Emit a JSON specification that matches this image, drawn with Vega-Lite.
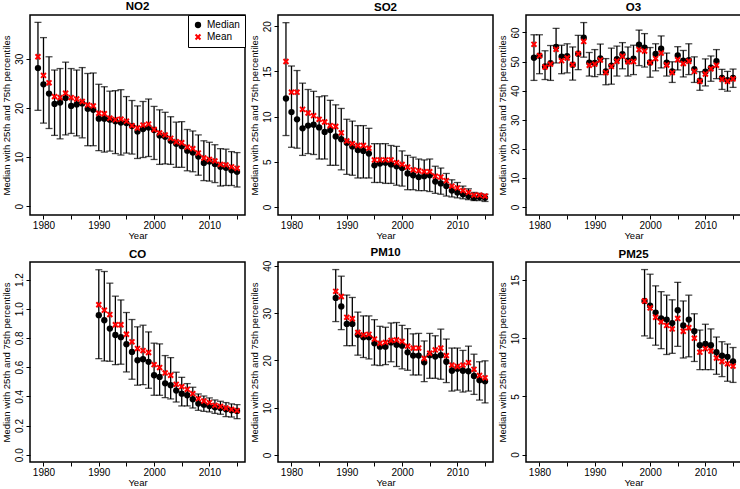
{
"$schema": "https://vega.github.io/schema/vega-lite/v6.json",
"background": "white",
"padding": {"left": 0, "top": 0, "right": 0, "bottom": 0},
"columns": 3,
"spacing": {"row": 47, "column": 33},
"bounds": "flush",
"resolve": {"scale": {"color": "independent", "shape": "independent"}, "legend": {"color": "independent", "shape": "independent"}},
"config": {
  "font": "Liberation Sans",
  "view": {"stroke": "black", "strokeWidth": 1.5},
  "axis": {"domain": false, "grid": false, "tickColor": "black", "tickSize": 4, "tickWidth": 1, "labelColor": "black", "labelFont": "Liberation Sans", "labelFontSize": 10, "labelPadding": 2, "titleFont": "Liberation Sans", "titleFontSize": 9.5, "titleFontWeight": "normal", "titleColor": "black", "titlePadding": 3, "labelOverlap": false, "labelFlush": false},
  "axisX": {"labelPadding": 1, "titlePadding": 0},
  "axisY": {"labelAngle": -90, "labelAlign": "center", "labelBaseline": "bottom", "labelOverlap": false},
  "title": {"font": "Liberation Sans", "fontSize": 11.5, "fontWeight": "bold", "color": "black", "offset": 2},
  "tick": {"orient": "horizontal"}
},
"datasets": {
"NO2": [
{"year":1979,"Median":28.1,"Mean":30.4,"lo":19.5,"hi":37.4},
{"year":1980,"Median":24.8,"Mean":26.6,"lo":16.9,"hi":34.3},
{"year":1981,"Median":22.9,"Mean":25.1,"lo":15.8,"hi":30.4},
{"year":1982,"Median":20.8,"Mean":22.3,"lo":14.4,"hi":27.7},
{"year":1983,"Median":21.1,"Mean":22.1,"lo":13.7,"hi":28.0},
{"year":1984,"Median":22.0,"Mean":23.0,"lo":14.5,"hi":29.3},
{"year":1985,"Median":20.4,"Mean":22.1,"lo":14.8,"hi":28.0},
{"year":1986,"Median":20.7,"Mean":21.8,"lo":14.3,"hi":27.7},
{"year":1987,"Median":20.9,"Mean":21.3,"lo":13.9,"hi":28.2},
{"year":1988,"Median":19.8,"Mean":20.6,"lo":12.3,"hi":27.0},
{"year":1989,"Median":19.6,"Mean":20.4,"lo":12.3,"hi":27.1},
{"year":1990,"Median":17.8,"Mean":18.9,"lo":11.3,"hi":24.8},
{"year":1991,"Median":17.8,"Mean":18.8,"lo":11.0,"hi":24.3},
{"year":1992,"Median":17.6,"Mean":17.9,"lo":11.2,"hi":23.4},
{"year":1993,"Median":17.3,"Mean":17.6,"lo":10.7,"hi":23.5},
{"year":1994,"Median":17.0,"Mean":17.7,"lo":10.4,"hi":23.7},
{"year":1995,"Median":16.9,"Mean":17.3,"lo":10.8,"hi":22.3},
{"year":1996,"Median":16.3,"Mean":16.4,"lo":10.6,"hi":21.5},
{"year":1997,"Median":15.2,"Mean":15.9,"lo":9.7,"hi":20.4},
{"year":1998,"Median":15.7,"Mean":16.5,"lo":9.9,"hi":21.3},
{"year":1999,"Median":16.0,"Mean":16.7,"lo":10.1,"hi":21.8},
{"year":2000,"Median":15.5,"Mean":15.6,"lo":9.5,"hi":20.3},
{"year":2001,"Median":14.4,"Mean":14.9,"lo":8.5,"hi":19.6},
{"year":2002,"Median":14.1,"Mean":14.5,"lo":8.6,"hi":19.1},
{"year":2003,"Median":13.3,"Mean":13.8,"lo":8.5,"hi":18.2},
{"year":2004,"Median":12.7,"Mean":13.1,"lo":7.9,"hi":17.1},
{"year":2005,"Median":12.2,"Mean":12.9,"lo":7.9,"hi":17.2},
{"year":2006,"Median":11.3,"Mean":12.0,"lo":7.2,"hi":15.6},
{"year":2007,"Median":10.9,"Mean":11.7,"lo":7.0,"hi":15.3},
{"year":2008,"Median":10.1,"Mean":10.8,"lo":6.3,"hi":14.5},
{"year":2009,"Median":8.8,"Mean":9.8,"lo":5.2,"hi":13.3},
{"year":2010,"Median":9.1,"Mean":9.5,"lo":5.1,"hi":13.0},
{"year":2011,"Median":8.6,"Mean":9.2,"lo":4.8,"hi":12.5},
{"year":2012,"Median":8.0,"Mean":8.5,"lo":4.1,"hi":11.7},
{"year":2013,"Median":7.8,"Mean":8.4,"lo":4.2,"hi":11.6},
{"year":2014,"Median":7.3,"Mean":8.0,"lo":4.2,"hi":11.1},
{"year":2015,"Median":7.0,"Mean":7.7,"lo":3.9,"hi":10.9}
],
"SO2": [
{"year":1979,"Median":12.0,"Mean":16.1,"lo":7.9,"hi":20.4},
{"year":1980,"Median":10.5,"Mean":12.7,"lo":6.6,"hi":15.6},
{"year":1981,"Median":9.7,"Mean":12.7,"lo":6.5,"hi":15.1},
{"year":1982,"Median":8.7,"Mean":10.8,"lo":5.7,"hi":13.7},
{"year":1983,"Median":9.0,"Mean":10.4,"lo":5.9,"hi":13.0},
{"year":1984,"Median":9.1,"Mean":10.1,"lo":5.8,"hi":12.8},
{"year":1985,"Median":8.8,"Mean":9.7,"lo":5.3,"hi":12.2},
{"year":1986,"Median":8.3,"Mean":9.4,"lo":5.3,"hi":12.3},
{"year":1987,"Median":8.5,"Mean":9.0,"lo":4.6,"hi":11.8},
{"year":1988,"Median":7.8,"Mean":8.9,"lo":4.6,"hi":11.3},
{"year":1989,"Median":7.5,"Mean":8.2,"lo":4.1,"hi":10.9},
{"year":1990,"Median":7.1,"Mean":7.3,"lo":3.6,"hi":9.7},
{"year":1991,"Median":6.7,"Mean":7.0,"lo":3.5,"hi":9.5},
{"year":1992,"Median":6.3,"Mean":6.8,"lo":3.2,"hi":9.0},
{"year":1993,"Median":6.2,"Mean":6.8,"lo":3.2,"hi":9.0},
{"year":1994,"Median":5.9,"Mean":6.5,"lo":3.2,"hi":8.7},
{"year":1995,"Median":4.6,"Mean":5.2,"lo":2.7,"hi":7.0},
{"year":1996,"Median":4.8,"Mean":5.2,"lo":2.7,"hi":7.0},
{"year":1997,"Median":4.9,"Mean":5.2,"lo":2.6,"hi":7.0},
{"year":1998,"Median":4.7,"Mean":5.2,"lo":2.6,"hi":6.8},
{"year":1999,"Median":4.5,"Mean":4.9,"lo":2.4,"hi":6.7},
{"year":2000,"Median":4.3,"Mean":4.7,"lo":2.3,"hi":6.2},
{"year":2001,"Median":3.7,"Mean":4.4,"lo":1.9,"hi":5.7},
{"year":2002,"Median":3.5,"Mean":4.1,"lo":1.9,"hi":5.5},
{"year":2003,"Median":3.3,"Mean":4.0,"lo":1.8,"hi":5.3},
{"year":2004,"Median":3.4,"Mean":3.9,"lo":1.8,"hi":5.2},
{"year":2005,"Median":3.5,"Mean":3.9,"lo":1.7,"hi":5.3},
{"year":2006,"Median":2.8,"Mean":3.4,"lo":1.5,"hi":4.5},
{"year":2007,"Median":2.6,"Mean":3.3,"lo":1.4,"hi":4.3},
{"year":2008,"Median":2.3,"Mean":2.9,"lo":1.2,"hi":3.7},
{"year":2009,"Median":1.8,"Mean":2.3,"lo":1.1,"hi":3.0},
{"year":2010,"Median":1.6,"Mean":2.1,"lo":1.0,"hi":2.7},
{"year":2011,"Median":1.4,"Mean":1.8,"lo":0.9,"hi":2.3},
{"year":2012,"Median":1.2,"Mean":1.6,"lo":0.8,"hi":2.0},
{"year":2013,"Median":1.0,"Mean":1.3,"lo":0.7,"hi":1.6},
{"year":2014,"Median":1.1,"Mean":1.3,"lo":0.7,"hi":1.5},
{"year":2015,"Median":1.0,"Mean":1.2,"lo":0.6,"hi":1.4}
],
"O3": [
{"year":1979,"Median":51.3,"Mean":55.9,"lo":43.5,"hi":59.2},
{"year":1980,"Median":52.0,"Mean":52.0,"lo":45.8,"hi":59.2},
{"year":1981,"Median":48.3,"Mean":48.1,"lo":43.8,"hi":53.7},
{"year":1982,"Median":49.4,"Mean":49.1,"lo":43.5,"hi":55.5},
{"year":1983,"Median":55.0,"Mean":54.2,"lo":49.5,"hi":61.4},
{"year":1984,"Median":51.7,"Mean":50.3,"lo":45.8,"hi":55.6},
{"year":1985,"Median":51.8,"Mean":51.2,"lo":46.1,"hi":56.1},
{"year":1986,"Median":48.9,"Mean":48.9,"lo":43.6,"hi":55.0},
{"year":1987,"Median":52.7,"Mean":52.7,"lo":47.2,"hi":59.0},
{"year":1988,"Median":58.2,"Mean":56.9,"lo":51.5,"hi":63.4},
{"year":1989,"Median":49.6,"Mean":48.7,"lo":45.0,"hi":53.1},
{"year":1990,"Median":49.5,"Mean":49.1,"lo":44.8,"hi":54.1},
{"year":1991,"Median":51.1,"Mean":50.5,"lo":45.5,"hi":56.0},
{"year":1992,"Median":46.6,"Mean":46.2,"lo":42.0,"hi":51.0},
{"year":1993,"Median":48.6,"Mean":48.3,"lo":42.2,"hi":54.6},
{"year":1994,"Median":50.8,"Mean":50.1,"lo":45.0,"hi":55.3},
{"year":1995,"Median":52.5,"Mean":51.8,"lo":47.5,"hi":56.5},
{"year":1996,"Median":50.3,"Mean":49.9,"lo":45.0,"hi":55.0},
{"year":1997,"Median":51.0,"Mean":50.0,"lo":45.5,"hi":55.6},
{"year":1998,"Median":55.8,"Mean":54.1,"lo":48.6,"hi":60.8},
{"year":1999,"Median":54.8,"Mean":53.6,"lo":48.1,"hi":59.6},
{"year":2000,"Median":49.7,"Mean":49.6,"lo":44.6,"hi":54.8},
{"year":2001,"Median":52.6,"Mean":51.0,"lo":46.8,"hi":56.1},
{"year":2002,"Median":54.4,"Mean":52.9,"lo":47.8,"hi":58.8},
{"year":2003,"Median":49.6,"Mean":48.8,"lo":45.0,"hi":52.9},
{"year":2004,"Median":46.6,"Mean":46.2,"lo":42.8,"hi":49.9},
{"year":2005,"Median":52.1,"Mean":50.6,"lo":47.1,"hi":55.1},
{"year":2006,"Median":50.3,"Mean":49.3,"lo":44.7,"hi":53.8},
{"year":2007,"Median":50.5,"Mean":50.1,"lo":45.5,"hi":56.1},
{"year":2008,"Median":47.4,"Mean":46.6,"lo":42.8,"hi":51.6},
{"year":2009,"Median":43.4,"Mean":43.2,"lo":40.1,"hi":46.5},
{"year":2010,"Median":46.5,"Mean":45.7,"lo":41.6,"hi":50.9},
{"year":2011,"Median":47.9,"Mean":47.5,"lo":43.2,"hi":51.9},
{"year":2012,"Median":50.1,"Mean":48.7,"lo":44.1,"hi":54.1},
{"year":2013,"Median":44.4,"Mean":43.9,"lo":40.4,"hi":47.3},
{"year":2014,"Median":43.6,"Mean":43.2,"lo":39.8,"hi":46.6},
{"year":2015,"Median":44.4,"Mean":44.0,"lo":41.1,"hi":47.4}
],
"CO": [
{"year":1990,"Median":0.956,"Mean":1.027,"lo":0.658,"hi":1.267},
{"year":1991,"Median":0.921,"Mean":0.99,"lo":0.642,"hi":1.255},
{"year":1992,"Median":0.864,"Mean":0.96,"lo":0.64,"hi":1.175},
{"year":1993,"Median":0.82,"Mean":0.89,"lo":0.617,"hi":1.086},
{"year":1994,"Median":0.805,"Mean":0.89,"lo":0.62,"hi":1.06},
{"year":1995,"Median":0.757,"Mean":0.825,"lo":0.567,"hi":0.974},
{"year":1996,"Median":0.704,"Mean":0.773,"lo":0.517,"hi":0.926},
{"year":1997,"Median":0.647,"Mean":0.727,"lo":0.476,"hi":0.876},
{"year":1998,"Median":0.654,"Mean":0.713,"lo":0.48,"hi":0.887},
{"year":1999,"Median":0.636,"Mean":0.70,"lo":0.455,"hi":0.841},
{"year":2000,"Median":0.544,"Mean":0.617,"lo":0.407,"hi":0.764},
{"year":2001,"Median":0.533,"Mean":0.597,"lo":0.407,"hi":0.759},
{"year":2002,"Median":0.489,"Mean":0.56,"lo":0.391,"hi":0.679},
{"year":2003,"Median":0.476,"Mean":0.544,"lo":0.382,"hi":0.665},
{"year":2004,"Median":0.439,"Mean":0.482,"lo":0.361,"hi":0.565},
{"year":2005,"Median":0.418,"Mean":0.466,"lo":0.334,"hi":0.53},
{"year":2006,"Median":0.407,"Mean":0.448,"lo":0.334,"hi":0.487},
{"year":2007,"Median":0.38,"Mean":0.418,"lo":0.32,"hi":0.462},
{"year":2008,"Median":0.35,"Mean":0.384,"lo":0.304,"hi":0.416},
{"year":2009,"Median":0.343,"Mean":0.368,"lo":0.297,"hi":0.402},
{"year":2010,"Median":0.334,"Mean":0.357,"lo":0.293,"hi":0.389},
{"year":2011,"Median":0.325,"Mean":0.338,"lo":0.283,"hi":0.375},
{"year":2012,"Median":0.32,"Mean":0.331,"lo":0.277,"hi":0.366},
{"year":2013,"Median":0.311,"Mean":0.32,"lo":0.261,"hi":0.357},
{"year":2014,"Median":0.304,"Mean":0.311,"lo":0.258,"hi":0.348},
{"year":2015,"Median":0.30,"Mean":0.302,"lo":0.247,"hi":0.343}
],
"PM10": [
{"year":1988,"Median":33.2,"Mean":34.6,"lo":28.2,"hi":39.2},
{"year":1989,"Median":31.4,"Mean":33.5,"lo":26.5,"hi":37.8},
{"year":1990,"Median":27.7,"Mean":29.1,"lo":23.1,"hi":33.8},
{"year":1991,"Median":27.7,"Mean":28.8,"lo":23.1,"hi":33.3},
{"year":1992,"Median":25.4,"Mean":25.9,"lo":21.1,"hi":30.2},
{"year":1993,"Median":24.9,"Mean":25.4,"lo":20.6,"hi":29.4},
{"year":1994,"Median":24.9,"Mean":25.5,"lo":20.3,"hi":29.4},
{"year":1995,"Median":23.6,"Mean":24.5,"lo":19.0,"hi":28.6},
{"year":1996,"Median":22.9,"Mean":23.6,"lo":18.9,"hi":27.2},
{"year":1997,"Median":22.9,"Mean":23.8,"lo":19.1,"hi":27.0},
{"year":1998,"Median":23.8,"Mean":24.2,"lo":19.7,"hi":27.9},
{"year":1999,"Median":23.3,"Mean":24.3,"lo":18.7,"hi":28.0},
{"year":2000,"Median":23.1,"Mean":24.0,"lo":18.2,"hi":27.4},
{"year":2001,"Median":21.7,"Mean":23.0,"lo":17.9,"hi":26.7},
{"year":2002,"Median":21.0,"Mean":22.6,"lo":16.9,"hi":25.6},
{"year":2003,"Median":21.0,"Mean":22.6,"lo":16.9,"hi":25.7},
{"year":2004,"Median":19.6,"Mean":20.4,"lo":15.5,"hi":24.1},
{"year":2005,"Median":21.1,"Mean":21.5,"lo":16.2,"hi":25.7},
{"year":2006,"Median":20.8,"Mean":22.2,"lo":16.2,"hi":25.2},
{"year":2007,"Median":21.1,"Mean":22.6,"lo":16.0,"hi":26.6},
{"year":2008,"Median":19.7,"Mean":21.0,"lo":15.3,"hi":24.5},
{"year":2009,"Median":17.8,"Mean":19.0,"lo":13.5,"hi":22.6},
{"year":2010,"Median":18.2,"Mean":18.7,"lo":13.7,"hi":22.6},
{"year":2011,"Median":17.8,"Mean":19.0,"lo":13.3,"hi":22.1},
{"year":2012,"Median":17.7,"Mean":19.5,"lo":13.5,"hi":23.0},
{"year":2013,"Median":16.7,"Mean":18.1,"lo":12.8,"hi":21.3},
{"year":2014,"Median":15.8,"Mean":16.8,"lo":11.6,"hi":19.7},
{"year":2015,"Median":15.6,"Mean":16.3,"lo":11.0,"hi":19.9}
],
"PM25": [
{"year":1999,"Median":13.2,"Mean":13.2,"lo":10.2,"hi":15.9},
{"year":2000,"Median":12.8,"Mean":12.6,"lo":10.0,"hi":15.5},
{"year":2001,"Median":12.2,"Mean":11.8,"lo":9.4,"hi":14.5},
{"year":2002,"Median":11.7,"Mean":11.4,"lo":9.1,"hi":14.0},
{"year":2003,"Median":11.6,"Mean":11.1,"lo":8.6,"hi":13.7},
{"year":2004,"Median":11.3,"Mean":10.8,"lo":8.7,"hi":13.3},
{"year":2005,"Median":12.4,"Mean":11.7,"lo":9.3,"hi":14.8},
{"year":2006,"Median":11.1,"Mean":10.6,"lo":8.3,"hi":13.2},
{"year":2007,"Median":11.6,"Mean":10.9,"lo":8.4,"hi":13.7},
{"year":2008,"Median":10.6,"Mean":10.0,"lo":8.0,"hi":12.1},
{"year":2009,"Median":9.4,"Mean":8.8,"lo":7.3,"hi":10.7},
{"year":2010,"Median":9.5,"Mean":9.1,"lo":7.3,"hi":11.2},
{"year":2011,"Median":9.4,"Mean":8.9,"lo":7.3,"hi":10.8},
{"year":2012,"Median":8.8,"Mean":8.3,"lo":6.9,"hi":10.1},
{"year":2013,"Median":8.5,"Mean":8.0,"lo":6.7,"hi":9.7},
{"year":2014,"Median":8.4,"Mean":7.8,"lo":6.3,"hi":9.5},
{"year":2015,"Median":8.0,"Mean":7.6,"lo":6.2,"hi":9.2}
]
},
"concat": [
{"title": "NO2", "width": 215, "height": 200, "data": {"name": "NO2"},
 "encoding": {"x": {"field": "year", "type": "quantitative", "title": "Year", "scale": {"domain": [1977.56, 2016.44], "nice": false, "zero": false}, "axis": {"values": [1980,1985,1990,1995,2000,2005,2010,2015], "tickCount": 20, "format": "d", "labelOverlap": false, "labelExpr": "datum.value % 10 === 0 ? datum.label : ''"}}},
 "layer": [
  {"mark": {"type": "rule", "color": "black", "strokeWidth": 1.3}, "encoding": {"y": {"field": "lo", "type": "quantitative", "title": "Median with 25th and 75th percentiles", "scale": {"domain": [-1.8, 38.9], "nice": false, "zero": false}, "axis": {"values": [0,10,20,30], "tickCount": 20, "labelOverlap": false}}, "y2": {"field": "hi"}}},
  {"mark": {"type": "tick", "orient": "horizontal", "color": "black", "size": 7, "thickness": 1.3}, "encoding": {"y": {"field": "lo", "type": "quantitative", "title": "Median with 25th and 75th percentiles"}}},
  {"mark": {"type": "tick", "orient": "horizontal", "color": "black", "size": 7, "thickness": 1.3}, "encoding": {"y": {"field": "hi", "type": "quantitative", "title": "Median with 25th and 75th percentiles"}}},
  {"transform": [{"fold": ["Median", "Mean"], "as": ["stat", "value"]}],
   "mark": {"type": "point", "filled": true, "opacity": 1, "size": 40},
   "encoding": {"y": {"field": "value", "type": "quantitative", "title": "Median with 25th and 75th percentiles"},
    "color": {"field": "stat", "type": "nominal", "scale": {"domain": ["Median", "Mean"], "range": ["black", "#ff0000"]}, "legend": {"title": null, "orient": "top-right", "offset": 0, "strokeColor": "black", "fillColor": "white", "padding": 5, "labelFontSize": 10, "labelColor": "black", "symbolSize": 40, "rowPadding": 2}},
    "shape": {"field": "stat", "type": "nominal", "scale": {"domain": ["Median", "Mean"], "range": ["circle", "M-1,-0.55L-0.55,-1L0,-0.45L0.55,-1L1,-0.55L0.45,0L1,0.55L0.55,1L0,0.45L-0.55,1L-1,0.55L-0.45,0Z"]}, "legend": {"title": null, "orient": "top-right", "offset": 0, "strokeColor": "black", "fillColor": "white", "padding": 5, "labelFontSize": 10, "labelColor": "black", "symbolSize": 40, "rowPadding": 2}}}}
 ]},
{"title": "SO2", "width": 215, "height": 200, "data": {"name": "SO2"},
 "encoding": {"x": {"field": "year", "type": "quantitative", "title": "Year", "scale": {"domain": [1977.56, 2016.44], "nice": false, "zero": false}, "axis": {"values": [1980,1985,1990,1995,2000,2005,2010,2015], "tickCount": 20, "format": "d", "labelOverlap": false, "labelExpr": "datum.value % 10 === 0 ? datum.label : ''"}}},
 "layer": [
  {"mark": {"type": "rule", "color": "black", "strokeWidth": 1.3}, "encoding": {"y": {"field": "lo", "type": "quantitative", "title": "Median with 25th and 75th percentiles", "scale": {"domain": [-0.9, 21.25], "nice": false, "zero": false}, "axis": {"values": [0,5,10,15,20], "tickCount": 20, "labelOverlap": false}}, "y2": {"field": "hi"}}},
  {"mark": {"type": "tick", "orient": "horizontal", "color": "black", "size": 7, "thickness": 1.3}, "encoding": {"y": {"field": "lo", "type": "quantitative", "title": "Median with 25th and 75th percentiles"}}},
  {"mark": {"type": "tick", "orient": "horizontal", "color": "black", "size": 7, "thickness": 1.3}, "encoding": {"y": {"field": "hi", "type": "quantitative", "title": "Median with 25th and 75th percentiles"}}},
  {"transform": [{"fold": ["Median", "Mean"], "as": ["stat", "value"]}],
   "mark": {"type": "point", "filled": true, "opacity": 1, "size": 40},
   "encoding": {"y": {"field": "value", "type": "quantitative", "title": "Median with 25th and 75th percentiles"},
    "color": {"field": "stat", "type": "nominal", "scale": {"domain": ["Median", "Mean"], "range": ["black", "#ff0000"]}, "legend": null},
    "shape": {"field": "stat", "type": "nominal", "scale": {"domain": ["Median", "Mean"], "range": ["circle", "M-1,-0.55L-0.55,-1L0,-0.45L0.55,-1L1,-0.55L0.45,0L1,0.55L0.55,1L0,0.45L-0.55,1L-1,0.55L-0.45,0Z"]}, "legend": null}}}
 ]},
{"title": "O3", "width": 215, "height": 200, "data": {"name": "O3"},
 "encoding": {"x": {"field": "year", "type": "quantitative", "title": "Year", "scale": {"domain": [1977.56, 2016.44], "nice": false, "zero": false}, "axis": {"values": [1980,1985,1990,1995,2000,2005,2010,2015], "tickCount": 20, "format": "d", "labelOverlap": false, "labelExpr": "datum.value % 10 === 0 ? datum.label : ''"}}},
 "layer": [
  {"mark": {"type": "rule", "color": "black", "strokeWidth": 1.3}, "encoding": {"y": {"field": "lo", "type": "quantitative", "title": "Median with 25th and 75th percentiles", "scale": {"domain": [-2.8, 66], "nice": false, "zero": false}, "axis": {"values": [0,10,20,30,40,50,60], "tickCount": 20, "labelOverlap": false}}, "y2": {"field": "hi"}}},
  {"mark": {"type": "tick", "orient": "horizontal", "color": "black", "size": 7, "thickness": 1.3}, "encoding": {"y": {"field": "lo", "type": "quantitative", "title": "Median with 25th and 75th percentiles"}}},
  {"mark": {"type": "tick", "orient": "horizontal", "color": "black", "size": 7, "thickness": 1.3}, "encoding": {"y": {"field": "hi", "type": "quantitative", "title": "Median with 25th and 75th percentiles"}}},
  {"transform": [{"fold": ["Median", "Mean"], "as": ["stat", "value"]}],
   "mark": {"type": "point", "filled": true, "opacity": 1, "size": 40},
   "encoding": {"y": {"field": "value", "type": "quantitative", "title": "Median with 25th and 75th percentiles"},
    "color": {"field": "stat", "type": "nominal", "scale": {"domain": ["Median", "Mean"], "range": ["black", "#ff0000"]}, "legend": null},
    "shape": {"field": "stat", "type": "nominal", "scale": {"domain": ["Median", "Mean"], "range": ["circle", "M-1,-0.55L-0.55,-1L0,-0.45L0.55,-1L1,-0.55L0.45,0L1,0.55L0.55,1L0,0.45L-0.55,1L-1,0.55L-0.45,0Z"]}, "legend": null}}}
 ]},
{"title": "CO", "width": 215, "height": 200, "data": {"name": "CO"},
 "encoding": {"x": {"field": "year", "type": "quantitative", "title": "Year", "scale": {"domain": [1977.56, 2016.44], "nice": false, "zero": false}, "axis": {"values": [1980,1985,1990,1995,2000,2005,2010,2015], "tickCount": 20, "format": "d", "labelOverlap": false, "labelExpr": "datum.value % 10 === 0 ? datum.label : ''"}}},
 "layer": [
  {"mark": {"type": "rule", "color": "black", "strokeWidth": 1.3}, "encoding": {"y": {"field": "lo", "type": "quantitative", "title": "Median with 25th and 75th percentiles", "scale": {"domain": [-0.05, 1.32], "nice": false, "zero": false}, "axis": {"values": [0,0.2,0.4,0.6,0.8,1.0,1.2], "tickCount": 20, "format": ".1f", "labelOverlap": false}}, "y2": {"field": "hi"}}},
  {"mark": {"type": "tick", "orient": "horizontal", "color": "black", "size": 7, "thickness": 1.3}, "encoding": {"y": {"field": "lo", "type": "quantitative", "title": "Median with 25th and 75th percentiles"}}},
  {"mark": {"type": "tick", "orient": "horizontal", "color": "black", "size": 7, "thickness": 1.3}, "encoding": {"y": {"field": "hi", "type": "quantitative", "title": "Median with 25th and 75th percentiles"}}},
  {"transform": [{"fold": ["Median", "Mean"], "as": ["stat", "value"]}],
   "mark": {"type": "point", "filled": true, "opacity": 1, "size": 40},
   "encoding": {"y": {"field": "value", "type": "quantitative", "title": "Median with 25th and 75th percentiles"},
    "color": {"field": "stat", "type": "nominal", "scale": {"domain": ["Median", "Mean"], "range": ["black", "#ff0000"]}, "legend": null},
    "shape": {"field": "stat", "type": "nominal", "scale": {"domain": ["Median", "Mean"], "range": ["circle", "M-1,-0.55L-0.55,-1L0,-0.45L0.55,-1L1,-0.55L0.45,0L1,0.55L0.55,1L0,0.45L-0.55,1L-1,0.55L-0.45,0Z"]}, "legend": null}}}
 ]},
{"title": "PM10", "width": 215, "height": 200, "data": {"name": "PM10"},
 "encoding": {"x": {"field": "year", "type": "quantitative", "title": "Year", "scale": {"domain": [1977.56, 2016.44], "nice": false, "zero": false}, "axis": {"values": [1980,1985,1990,1995,2000,2005,2010,2015], "tickCount": 20, "format": "d", "labelOverlap": false, "labelExpr": "datum.value % 10 === 0 ? datum.label : ''"}}},
 "layer": [
  {"mark": {"type": "rule", "color": "black", "strokeWidth": 1.3}, "encoding": {"y": {"field": "lo", "type": "quantitative", "title": "Median with 25th and 75th percentiles", "scale": {"domain": [-1.5, 40.8], "nice": false, "zero": false}, "axis": {"values": [0,10,20,30,40], "tickCount": 20, "labelOverlap": false}}, "y2": {"field": "hi"}}},
  {"mark": {"type": "tick", "orient": "horizontal", "color": "black", "size": 7, "thickness": 1.3}, "encoding": {"y": {"field": "lo", "type": "quantitative", "title": "Median with 25th and 75th percentiles"}}},
  {"mark": {"type": "tick", "orient": "horizontal", "color": "black", "size": 7, "thickness": 1.3}, "encoding": {"y": {"field": "hi", "type": "quantitative", "title": "Median with 25th and 75th percentiles"}}},
  {"transform": [{"fold": ["Median", "Mean"], "as": ["stat", "value"]}],
   "mark": {"type": "point", "filled": true, "opacity": 1, "size": 40},
   "encoding": {"y": {"field": "value", "type": "quantitative", "title": "Median with 25th and 75th percentiles"},
    "color": {"field": "stat", "type": "nominal", "scale": {"domain": ["Median", "Mean"], "range": ["black", "#ff0000"]}, "legend": null},
    "shape": {"field": "stat", "type": "nominal", "scale": {"domain": ["Median", "Mean"], "range": ["circle", "M-1,-0.55L-0.55,-1L0,-0.45L0.55,-1L1,-0.55L0.45,0L1,0.55L0.55,1L0,0.45L-0.55,1L-1,0.55L-0.45,0Z"]}, "legend": null}}}
 ]},
{"title": "PM25", "width": 215, "height": 200, "data": {"name": "PM25"},
 "encoding": {"x": {"field": "year", "type": "quantitative", "title": "Year", "scale": {"domain": [1977.56, 2016.44], "nice": false, "zero": false}, "axis": {"values": [1980,1985,1990,1995,2000,2005,2010,2015], "tickCount": 20, "format": "d", "labelOverlap": false, "labelExpr": "datum.value % 10 === 0 ? datum.label : ''"}}},
 "layer": [
  {"mark": {"type": "rule", "color": "black", "strokeWidth": 1.3}, "encoding": {"y": {"field": "lo", "type": "quantitative", "title": "Median with 25th and 75th percentiles", "scale": {"domain": [-0.64, 16.55], "nice": false, "zero": false}, "axis": {"values": [0,5,10,15], "tickCount": 20, "labelOverlap": false}}, "y2": {"field": "hi"}}},
  {"mark": {"type": "tick", "orient": "horizontal", "color": "black", "size": 7, "thickness": 1.3}, "encoding": {"y": {"field": "lo", "type": "quantitative", "title": "Median with 25th and 75th percentiles"}}},
  {"mark": {"type": "tick", "orient": "horizontal", "color": "black", "size": 7, "thickness": 1.3}, "encoding": {"y": {"field": "hi", "type": "quantitative", "title": "Median with 25th and 75th percentiles"}}},
  {"transform": [{"fold": ["Median", "Mean"], "as": ["stat", "value"]}],
   "mark": {"type": "point", "filled": true, "opacity": 1, "size": 40},
   "encoding": {"y": {"field": "value", "type": "quantitative", "title": "Median with 25th and 75th percentiles"},
    "color": {"field": "stat", "type": "nominal", "scale": {"domain": ["Median", "Mean"], "range": ["black", "#ff0000"]}, "legend": null},
    "shape": {"field": "stat", "type": "nominal", "scale": {"domain": ["Median", "Mean"], "range": ["circle", "M-1,-0.55L-0.55,-1L0,-0.45L0.55,-1L1,-0.55L0.45,0L1,0.55L0.55,1L0,0.45L-0.55,1L-1,0.55L-0.45,0Z"]}, "legend": null}}}
 ]}
]
}
